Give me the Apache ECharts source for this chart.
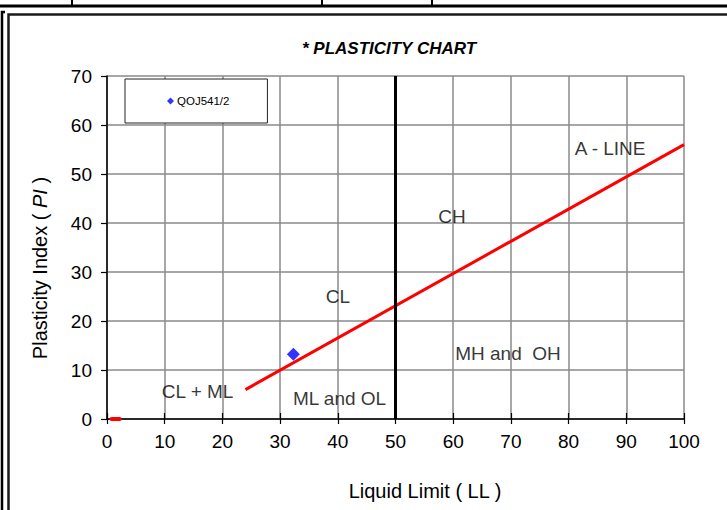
<!DOCTYPE html>
<html>
<head>
<meta charset="utf-8">
<script src="https://cdn.jsdelivr.net/npm/echarts@6/dist/echarts.min.js"></script>
<style>
  html, body { margin: 0; padding: 0; background: #fff; }
  #chart { width: 727px; height: 510px; }
</style>
</head>
<body>
<div id="chart"></div>
<script>
// Sample result (liquid limit vs plasticity index)
const sampleName = 'QOJ541/2';
const sampleLL = [32.3];
const samplePI = [13.2];

// A-line end points
const aLineLL = [24, 100];
const aLinePI = [6, 56];

// LL = 50 boundary between low and high plasticity
const boundaryLL = [50, 50];
const boundaryPI = [0, 70];

// short red stub sitting on the origin
const stubLL = [0.8, 2.2];
const stubPI = [0, 0];

// zone names and where they sit (LL, PI)
const zoneNames = ['A - LINE', 'CH', 'CL', 'MH and  OH', 'CL + ML', 'ML and OL'];
const zoneLL = [87.2, 59.8, 40.0, 69.5, 15.7, 40.3];
const zonePI = [55.2, 41.3, 25.0, 13.3, 5.6, 4.1];

// axis ranges
const xMin = 0, xMax = 100, xStep = 10;
const yMin = 0, yMax = 70, yStep = 10;

const pair = (xs, ys) => xs.map((x, i) => [x, ys[i]]);
const FONT = '"Liberation Sans", Arial, sans-serif';

const chart = echarts.init(document.getElementById('chart'), null, { renderer: 'svg' });

chart.setOption({
  animation: false,
  backgroundColor: '#fff',
  grid: { left: 107, right: 43, top: 76, bottom: 91, containLabel: false },
  xAxis: [
    {
      type: 'value', min: xMin, max: xMax, interval: xStep,
      axisLine: { show: true, onZero: false, lineStyle: { color: '#000', width: 1.5 } },
      axisTick: { show: true, inside: false, length: 5, lineStyle: { color: '#000', width: 1.2 } },
      axisLabel: { color: '#000', fontSize: 19, fontFamily: FONT, margin: 13 },
      splitLine: { show: true, lineStyle: { color: '#8a8a8a', width: 1.5 } }
    },
    {
      // inner half of the crossing tick marks
      type: 'value', min: xMin, max: xMax, interval: xStep, position: 'bottom',
      axisLine: { show: false },
      axisTick: { show: true, inside: true, length: 6, lineStyle: { color: '#000', width: 1.2 } },
      axisLabel: { show: false },
      splitLine: { show: false }
    }
  ],
  yAxis: {
    type: 'value', min: yMin, max: yMax, interval: yStep,
    axisLine: { show: true, onZero: false, lineStyle: { color: '#000', width: 1.5 } },
    axisTick: { show: true, inside: false, length: 6, lineStyle: { color: '#000', width: 1.2 } },
    axisLabel: { color: '#000', fontSize: 19, fontFamily: FONT, margin: 15 },
    splitLine: { show: true, lineStyle: { color: '#8a8a8a', width: 1.5 } }
  },
  legend: {
    data: [sampleName],
    left: 125, top: 79,
    padding: [16, 38, 16, 42],
    backgroundColor: '#fff',
    borderColor: '#222', borderWidth: 1, borderRadius: 0,
    icon: 'diamond', itemWidth: 7, itemHeight: 7, itemGap: 4,
    textStyle: { color: '#000', fontSize: 11.5, fontFamily: FONT, padding: [0, 0, 0, -2] }
  },
  series: [
    {
      name: 'A-line', type: 'line', data: pair(aLineLL, aLinePI),
      symbol: 'none', silent: true,
      lineStyle: { color: '#ff0000', width: 3 }
    },
    {
      name: 'LL 50', type: 'line', data: pair(boundaryLL, boundaryPI),
      symbol: 'none', silent: true,
      lineStyle: { color: '#000', width: 3 }
    },
    {
      name: 'origin', type: 'line', data: pair(stubLL, stubPI),
      symbol: 'none', silent: true,
      lineStyle: { color: '#ff0000', width: 4, cap: 'round' }
    },
    {
      name: sampleName, type: 'scatter', data: pair(sampleLL, samplePI),
      symbol: 'diamond', symbolSize: [13, 13],
      itemStyle: { color: '#0000ff' }, z: 5
    },
    {
      name: 'zones', type: 'scatter', silent: true,
      data: zoneNames.map((n, i) => ({ name: n, value: [zoneLL[i], zonePI[i]] })),
      symbolSize: 0,
      label: {
        show: true, position: 'inside', formatter: '{b}',
        color: '#000', fontSize: 19, fontFamily: FONT,
        textBorderWidth: 0
      },
      z: 4
    }
  ],
  graphic: [
    // table rule at the very top and its cell dividers
    { type: 'line', shape: { x1: 0, y1: 6, x2: 727, y2: 6 }, style: { stroke: '#000', lineWidth: 3 }, silent: true },
    { type: 'line', shape: { x1: 72, y1: 0, x2: 72, y2: 6 }, style: { stroke: '#000', lineWidth: 2 }, silent: true },
    { type: 'line', shape: { x1: 322, y1: 0, x2: 322, y2: 6 }, style: { stroke: '#000', lineWidth: 2 }, silent: true },
    { type: 'line', shape: { x1: 432, y1: 0, x2: 432, y2: 6 }, style: { stroke: '#000', lineWidth: 2 }, silent: true },
    // double frame around the chart
    { type: 'polyline', shape: { points: [[2, 510], [2, 12], [5, 12]] }, style: { stroke: '#000', lineWidth: 2.5, fill: null }, silent: true },
    { type: 'polyline', shape: { points: [[8.5, 510], [8.5, 14.5], [727, 14.5]] }, style: { stroke: '#1a1a1a', lineWidth: 2.5, fill: null }, silent: true },
    // title
    {
      type: 'text', x: 389, y: 48, silent: true,
      style: {
        text: '* PLASTICITY CHART', align: 'center', verticalAlign: 'middle',
        font: 'italic bold 17px "Liberation Sans Narrow", "Arial Narrow", "Liberation Sans", sans-serif',
        fill: '#000'
      }
    },
    // axis names
    {
      type: 'text', x: 425, y: 491, silent: true,
      style: {
        text: 'Liquid Limit ( LL )', align: 'center', verticalAlign: 'middle',
        fontSize: 20, fontFamily: FONT, fill: '#000'
      }
    },
    {
      type: 'text', x: 40, y: 268, rotation: Math.PI / 2, silent: true,
      style: {
        text: 'Plasticity Index ( {i|PI} )', align: 'center', verticalAlign: 'middle',
        fontSize: 20, fontFamily: FONT, fill: '#000',
        rich: { i: { fontStyle: 'italic', fontSize: 20, fontFamily: FONT, fill: '#000' } }
      }
    }
  ]
});
</script>
</body>
</html>
